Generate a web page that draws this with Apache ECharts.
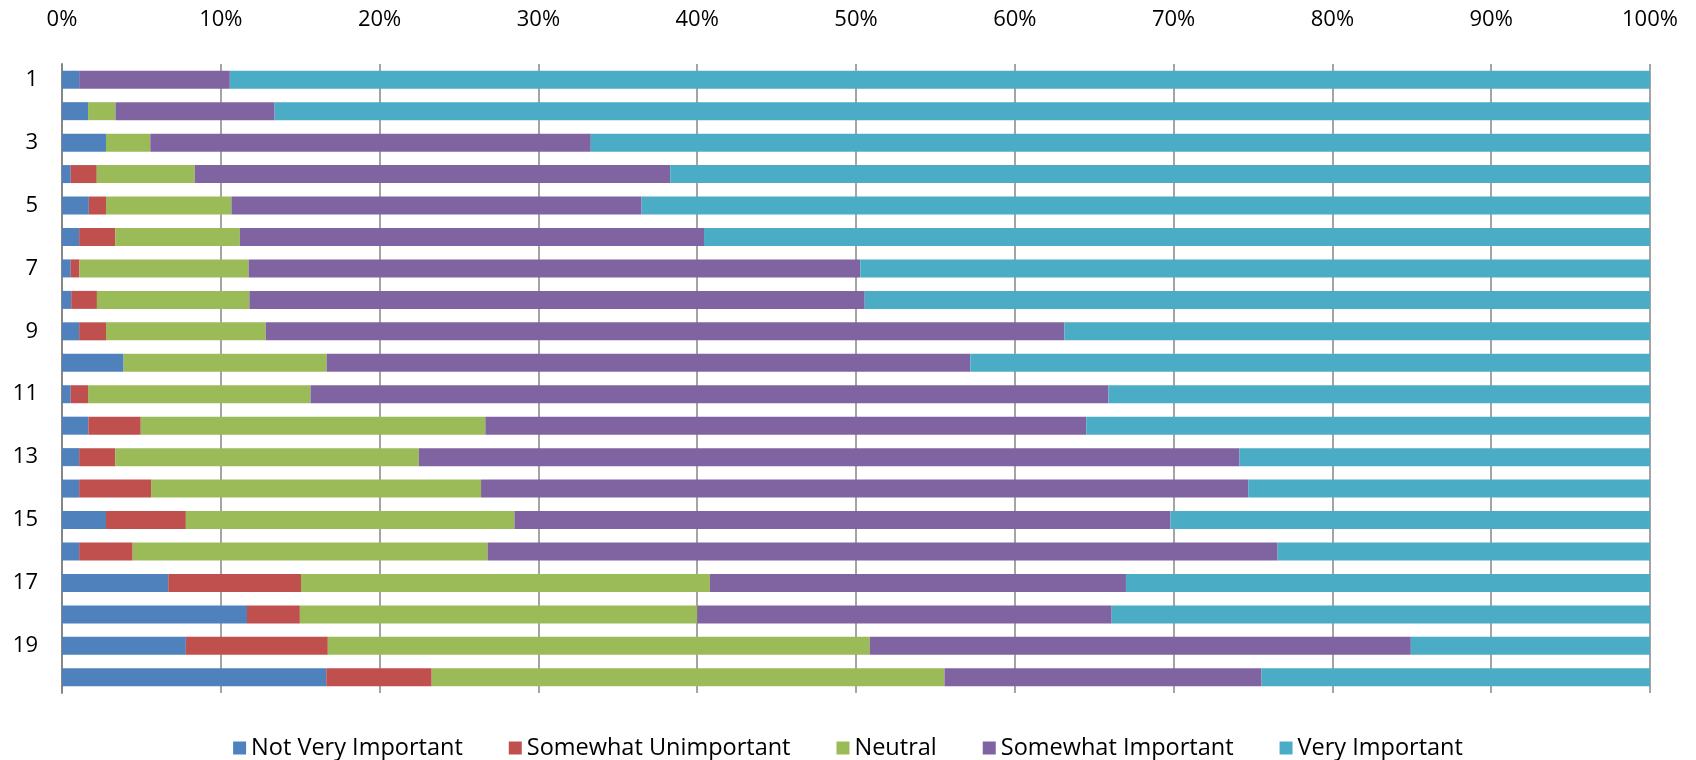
<!DOCTYPE html>
<html>
<head>
<meta charset="utf-8">
<script src="https://cdn.jsdelivr.net/npm/echarts@6/dist/echarts.min.js"></script>
<style>
html,body{margin:0;padding:0;background:#fff;}
#chart{width:1696px;height:760px;}
</style>
</head>
<body>
<div id="chart"></div>
<script>
const categories = ['1','2','3','4','5','6','7','8','9','10','11','12','13','14','15','16','17','18','19','20'];
const seriesNames = ['Not Very Important','Somewhat Unimportant','Neutral','Somewhat Important','Very Important'];
const notVeryImportant    = [1.08, 1.64, 2.77, 0.55, 1.69, 1.08, 0.55, 0.58, 1.08, 3.88, 0.55, 1.66, 1.08, 1.08, 2.77, 1.08, 6.69, 11.65, 7.80, 16.64];
const somewhatUnimportant = [0,    0,    0,    1.64, 1.08, 2.27, 0.55, 1.62, 1.69, 0,    1.09, 3.30, 2.27, 4.53, 5.03, 3.37, 8.36, 3.33, 8.94, 6.64];
const neutral             = [0,    1.73, 2.79, 6.17, 7.90, 7.85, 10.65, 9.60, 10.06, 12.78, 14.01, 21.70, 19.12, 20.78, 20.69, 22.35, 25.75, 25.02, 34.13, 32.29];
const somewhatImportant   = [9.49, 10.02, 27.74, 29.94, 25.83, 29.23, 38.52, 38.75, 50.30, 40.54, 50.25, 37.84, 51.68, 48.31, 41.31, 49.75, 26.20, 26.10, 34.07, 19.97];
const veryImportant       = [89.43, 86.61, 66.70, 61.70, 63.50, 59.57, 49.73, 49.45, 36.87, 42.80, 34.10, 35.50, 25.85, 25.30, 30.20, 23.45, 33.00, 33.90, 15.06, 24.46];
const xTicks = [0,10,20,30,40,50,60,70,80,90,100];

const colors = ['#4F81BD','#C0504D','#9BBB59','#8064A2','#4BACC6'];
const values = [notVeryImportant, somewhatUnimportant, neutral, somewhatImportant, veryImportant];
const font = '"Open Sans", sans-serif';

const chart = echarts.init(document.getElementById('chart'), null, {renderer:'canvas'});
chart.setOption({
  animation:false,
  color: colors,
  grid:{left:62, right:46, top:64, bottom:67, containLabel:false},
  legend:{
    top:731, left:'center',
    itemWidth:13, itemHeight:13, itemGap:46,
    icon:'rect',
    textStyle:{fontFamily:font, fontSize:23.5, color:'#000'},
    data: seriesNames
  },
  xAxis:{
    type:'value', position:'top', min:xTicks[0], max:xTicks[xTicks.length-1], interval:10,
    axisLine:{show:false}, axisTick:{show:false},
    splitLine:{show:true, lineStyle:{color:'#868686', width:1.5}},
    axisLabel:{formatter:'{value}%', fontFamily:font, fontSize:22, color:'#000', margin:33}
  },
  yAxis:{
    type:'category', inverse:true, data:categories,
    axisLine:{show:true, lineStyle:{color:'#868686', width:2}},
    axisTick:{show:false},
    axisLabel:{interval:1, fontFamily:font, fontSize:22, color:'#000', margin:24}
  },
  series: seriesNames.map((n,i)=>({
    name:n, type:'bar', stack:'total', barWidth:18,
    itemStyle:{color:colors[i]},
    data: values[i]
  }))
});
</script>
</body>
</html>
